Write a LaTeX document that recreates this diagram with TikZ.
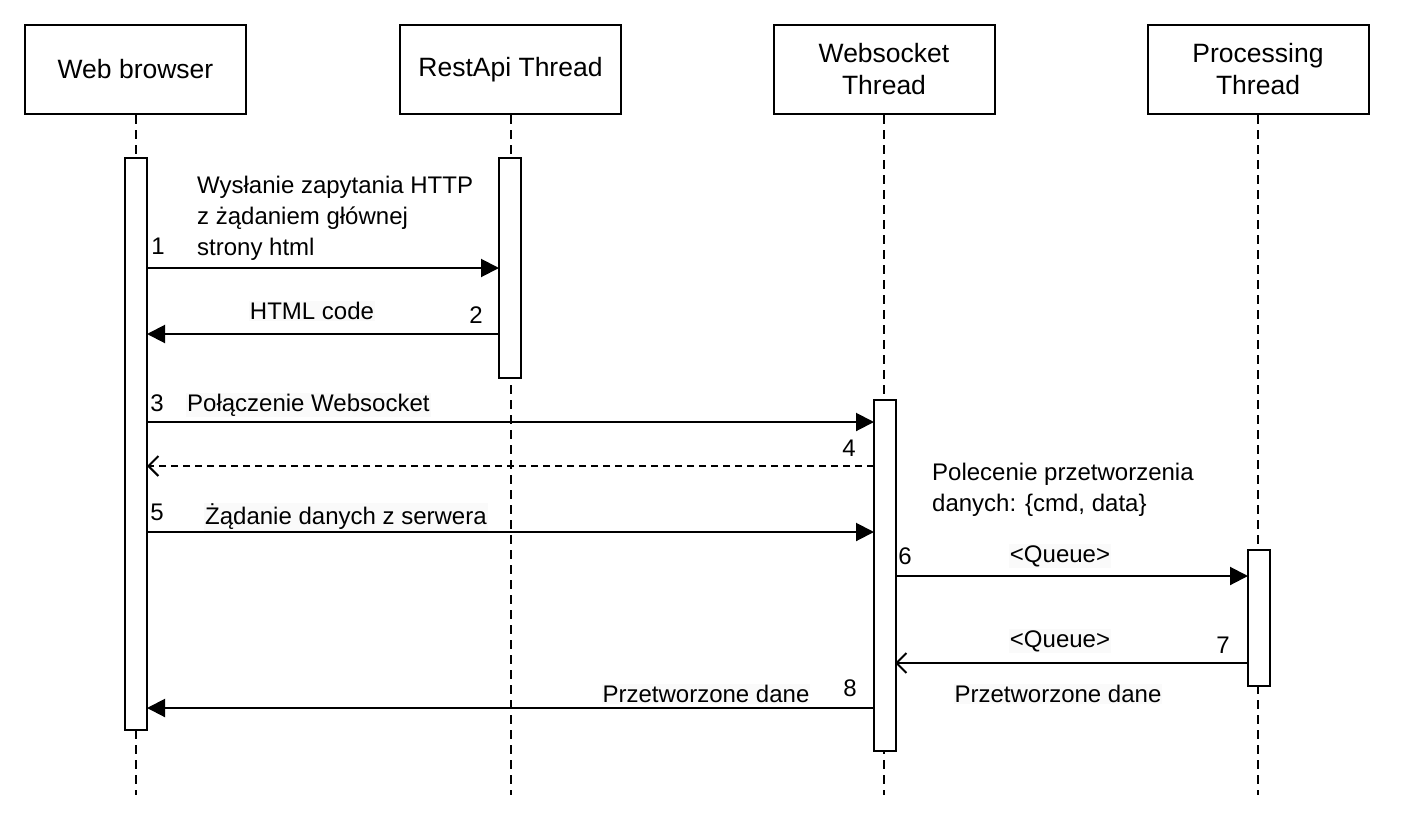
\documentclass[tikz,border=0pt]{standalone}
\usepackage{fontspec}
\setmainfont{Liberation Sans}
\usetikzlibrary{arrows.meta}
\begin{document}
\begin{tikzpicture}[x=1pt,y=-1pt,
  every node/.style={font=\fontsize{24}{31}\selectfont},
  head/.style={draw,line width=2pt,minimum width=221pt,minimum height=89pt,inner sep=0pt,align=center,font=\fontsize{26.5}{32}\selectfont},
  act/.style={draw,fill=white,line width=2pt,minimum width=22pt,inner sep=0pt},
  life/.style={line width=2pt,dash pattern=on 9pt off 6pt},
  msg/.style={line width=2pt,-{Triangle[length=18pt,width=18pt]}},
  ret/.style={line width=2pt,-{Straight Barb[length=10pt,width=20pt,line width=2pt]}},
  lbl/.style={inner sep=1pt,fill=black!2,align=left},
  mlbl/.style={inner sep=1pt,align=left},
  num/.style={inner sep=0pt}]
\useasboundingbox[fill=white] (0,0) rectangle (1407,827);
% headers
\node[head] (wb) at (135.5,69.5) {Web browser};
\node[head] (ra) at (510.5,69.5) {RestApi Thread};
\node[head] (ws) at (884,69.5) {Websocket\\Thread};
\node[head] (pt) at (1258,69.5) {Processing\\Thread};
% lifeline ends
\coordinate (wbe) at (135.5,795);
\coordinate (rae) at (510.5,795);
\coordinate (wse) at (884,795);
\coordinate (pte) at (1258,795);
\draw[life] (wb) -- (wbe);
\draw[life] (ra) -- (rae);
\draw[life] (ws) -- (wse);
\draw[life] (pt) -- (pte);
% activations
\node[act,minimum height=572pt] (wba) at (136,444) {};
\node[act,minimum height=220pt] (raa) at (510,268) {};
\node[act,minimum height=351pt] (wsa) at (884.5,575.5) {};
\node[act,minimum height=136pt] (pta) at (1258.5,618) {};
% message endpoints
\coordinate (m1a) at (147,268);  \coordinate (m1b) at (499,268);
\coordinate (m2a) at (499,334);  \coordinate (m2b) at (147,334);
\coordinate (m3a) at (147,422);  \coordinate (m3b) at (874,422);
\coordinate (m4a) at (874,466);  \coordinate (m4b) at (147,466);
\coordinate (m5a) at (147,532);  \coordinate (m5b) at (874,532);
\coordinate (m6a) at (895,576);  \coordinate (m6b) at (1248,576);
\coordinate (m7a) at (1248,663); \coordinate (m7b) at (895,663);
\coordinate (m8a) at (874,708);  \coordinate (m8b) at (147,708);
\draw[msg] (m1a) -- (m1b);
\draw[msg] (m2a) -- (m2b);
\draw[msg] (m3a) -- (m3b);
\draw[ret,dash pattern=on 7pt off 5pt] (m4a) -- (m4b);
\draw[msg] (m5a) -- (m5b);
\draw[msg] (m6a) -- (m6b);
\draw[ret] (m7a) -- (m7b);
\draw[msg] (m8a) -- (m8b);
% labels
\node[mlbl,anchor=west] (t1) at (196,218) {Wysłanie zapytania HTTP\\z żądaniem głównej\\strony html};
\node[num] (n1) at (158,246) {1};
\node[lbl] (t2) at (312,311) {HTML code};
\node[num] (n2) at (476,315) {2};
\node[num] (n3) at (157,403) {3};
\node[lbl,anchor=west] (t3) at (186,405) {Połączenie Websocket};
\node[num] (n4) at (849,448) {4};
\node[num] (n5) at (157,512) {5};
\node[lbl,anchor=west] (t5) at (204,517) {Żądanie danych z serwera};
\node[mlbl,anchor=west] (t6a) at (931,490) {Polecenie przetworzenia\\danych: \{cmd, data\}};
\node[num] (n6) at (905,556) {6};
\node[lbl] (q1) at (1060,556) {<Queue>};
\node[num] (n7) at (1223,645) {7};
\node[lbl] (q2) at (1060,641) {<Queue>};
\node[lbl] (t7) at (1058,694) {Przetworzone dane};
\node[num] (n8) at (850,688) {8};
\node[lbl] (t8) at (706,694) {Przetworzone dane};
\end{tikzpicture}
\end{document}
